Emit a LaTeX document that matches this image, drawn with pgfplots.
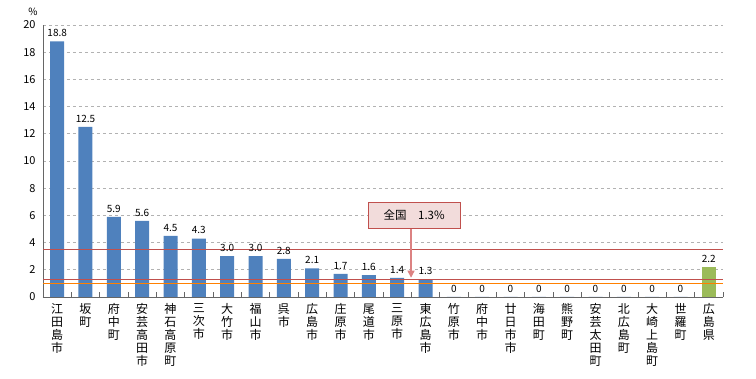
\documentclass[border=0pt]{standalone}
\usepackage{pgfplots}
\pgfplotsset{compat=1.18}
\usepackage{pgfplotstable}
\usepackage{fontspec}
\setmainfont{Noto Sans CJK JP}
\usetikzlibrary{arrows.meta}
\definecolor{barblue}{RGB}{79,129,189}
\definecolor{bargreen}{RGB}{155,187,89}
\definecolor{natred}{RGB}{192,80,77}
\definecolor{boxfill}{RGB}{242,220,219}
\definecolor{arrowred}{RGB}{220,130,130}
\pgfplotstableread{
x y lab
0 18.8 18.8
1 12.5 12.5
2 5.9 5.9
3 5.6 5.6
4 4.5 4.5
5 4.3 4.3
6 3.0 3.0
7 3.0 3.0
8 2.8 2.8
9 2.1 2.1
10 1.7 1.7
11 1.6 1.6
12 1.4 1.4
13 1.3 1.3
14 0 0
15 0 0
16 0 0
17 0 0
18 0 0
19 0 0
20 0 0
21 0 0
22 0 0
}\datatab
\pgfplotstableread{
x y lab
23 2.2 2.2
}\preftab
\pgfplotstableread{
x y
-0.5 1.3
11.5 1.3
23.5 1.3
}\nattab
\begin{document}
\begin{tikzpicture}
\begin{axis}[
  at={(0,0)}, anchor=south west,
  scale only axis, width=680pt, height=272pt,
  xmin=-0.5, xmax=23.5, ymin=0, ymax=20,
  axis lines*=left,
  axis line style={draw=gray!80!black, line width=0.8pt},
  ytick={0,2,...,20},
  ymajorgrids, grid style={gray!60, dashed, line width=0.6pt},
  xtick={0,...,23},
  minor xtick={-0.5,0.5,...,23.5},
  major tick length=0pt,
  minor tick length=5pt,
  tick align=inside,
  minor tick style={draw=gray!80!black, line width=0.6pt},
  /pgf/number format/assume math mode=true,
  yticklabel style={font=\fontsize{11}{12}\selectfont, xshift=-4pt},
  xticklabel style={font=\fontsize{12}{13}\selectfont, align=center, anchor=north, yshift=-3pt},
  xticklabels={{江\\田\\島\\市},{坂\\町},{府\\中\\町},{安\\芸\\高\\田\\市},{神\\石\\高\\原\\町},{三\\次\\市},{大\\竹\\市},{福\\山\\市},{呉\\市},{広\\島\\市},{庄\\原\\市},{尾\\道\\市},{三\\原\\市},{東\\広\\島\\市},{竹\\原\\市},{府\\中\\市},{廿\\日\\市\\市},{海\\田\\町},{熊\\野\\町},{安\\芸\\太\\田\\町},{北\\広\\島\\町},{大\\崎\\上\\島\\町},{世\\羅\\町},{広\\島\\県}},
  clip=false,
  barlab/.style={nodes near coords, point meta=explicit symbolic,
    every node near coord/.append style={font=\fontsize{10}{11}\selectfont, black, yshift=1pt}},
]
\addplot[ybar, bar width=14pt, bar shift=0pt, fill=barblue, draw=none, barlab] table[x=x, y=y, meta=lab]{\datatab};
\addplot[ybar, bar width=14pt, bar shift=0pt, fill=bargreen, draw=none, barlab] table[x=x, y=y, meta=lab]{\preftab};
\addplot[natred, line width=1pt, mark=none] table[x=x, y=y]{\nattab};
\addplot[natred, line width=1pt, mark=none] coordinates {(-0.5,3.5) (11.5,3.5) (23.5,3.5)};
\draw[orange, line width=1pt] (axis cs:-0.5,1.0) -- (axis cs:23.5,1.0);
\draw[arrowred, line width=1.2pt, -{Triangle[length=7pt,width=7pt]}] (axis cs:12.49,5.07) -- (axis cs:12.49,1.42);
\node[draw=natred, fill=boxfill, line width=0.8pt, minimum width=92pt, minimum height=26pt, font=\fontsize{11.5}{12}\selectfont] at (axis cs:12.6,6.03) {全国\quad 1.3\%};
\end{axis}
\node[font=\fontsize{10}{11}\selectfont] at (-10pt,285pt) {\%};
\path[use as bounding box] (-43pt,-82pt) rectangle (713pt,297pt);
\end{tikzpicture}
\end{document}
